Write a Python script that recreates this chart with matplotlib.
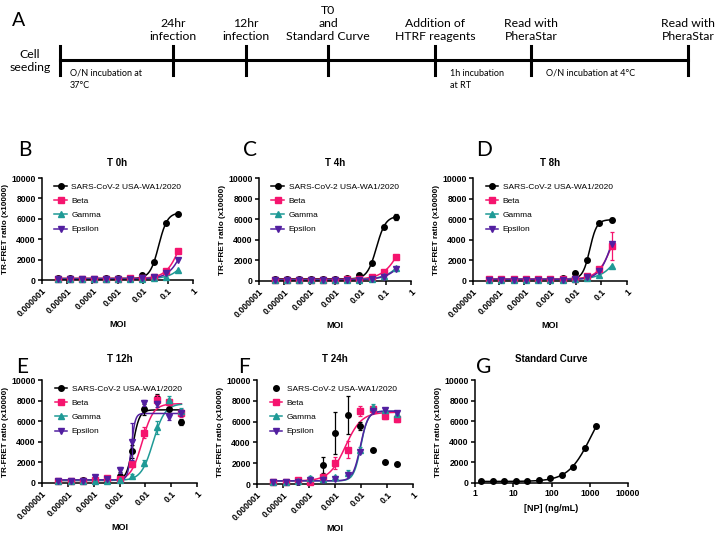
import numpy as np
import matplotlib
matplotlib.use("Agg")
import matplotlib.pyplot as plt
from matplotlib.lines import Line2D

plt.rcParams['font.family'] = ['Liberation Sans', 'DejaVu Sans']

# ---- data ----
moi = [4.2e-6, 1.27e-5, 3.81e-5, 1.14e-4, 3.43e-4, 1.03e-3,
       3.09e-3, 9.26e-3, 2.78e-2, 8.33e-2, 0.25]
moi_ticks = [1e-6, 1e-5, 1e-4, 1e-3, 1e-2, 1e-1, 1]
moi_labels = ['0.000001', '0.00001', '0.0001', '0.001', '0.01', '0.1', '1']
y_ticks = [0, 2000, 4000, 6000, 8000, 10000]

series_names = ['SARS-CoV-2 USA-WA1/2020', 'Beta', 'Gamma', 'Epsilon']

# T 0h
wa1_0h = [150, 150, 140, 140, 150, 160, 230, 500, 1750, 5580, 6440]
beta_0h = [130, 130, 130, 130, 130, 140, 150, 180, 300, 890, 2800]
gamma_0h = [110, 110, 110, 110, 110, 110, 120, 140, 200, 320, 990]
eps_0h = [100, 100, 100, 100, 100, 100, 110, 150, 250, 650, 1950]
fit_0h = [(150, 6600, 0.0434, 2.53), (150, 8000, 0.398, 1.45),
          (120, 8000, 1.26, 1.29), (100, 8000, 0.59, 1.38)]

# T 4h
wa1_4h = [180, 180, 180, 180, 180, 190, 260, 620, 1780, 5270, 6180]
wa1_4h_err = [0, 0, 0, 0, 0, 0, 0, 0, 0, 150, 300]
beta_4h = [130, 130, 130, 130, 130, 140, 160, 200, 420, 900, 2300]
gamma_4h = [100, 100, 100, 100, 100, 100, 110, 130, 200, 470, 1230]
eps_4h = [90, 90, 90, 90, 90, 90, 100, 120, 180, 400, 1150]
fit_4h = [(200, 6300, 0.0433, 2.41), (150, 8000, 0.58, 1.16),
          (120, 8000, 1.31, 1.09), (100, 8000, 1.40, 1.10)]

# T 8h
wa1_8h = [200, 200, 200, 200, 200, 200, 330, 810, 2040, 5600, 5900]
wa1_8h_err = [0, 0, 0, 0, 0, 0, 0, 0, 0, 0, 200]
beta_8h = [150, 150, 150, 150, 150, 160, 180, 200, 490, 1130, 3400]
beta_8h_err = [0, 0, 0, 0, 0, 0, 0, 0, 0, 200, 1400]
gamma_8h = [110, 110, 110, 110, 110, 110, 120, 150, 280, 580, 1490]
eps_8h = [120, 120, 120, 120, 120, 120, 130, 160, 350, 1000, 3600]
fit_8h = [(200, 5950, 0.0355, 3.18), (200, 8000, 0.32, 1.49),
          (150, 8000, 0.99, 1.15), (150, 8000, 0.288, 1.7)]

# T 12h
wa1_12h = [150, 150, 260, 320, 360, 680, 3070, 7150, 8220, 7150, 5890]
wa1_12h_err = [0, 0, 50, 100, 100, 400, 600, 500, 400, 200, 300]
beta_12h = [150, 150, 200, 250, 450, 350, 1840, 4890, 8100, 7900, 6760]
beta_12h_err = [0, 0, 0, 0, 100, 0, 300, 500, 400, 300, 400]
gamma_12h = [150, 150, 200, 200, 200, 300, 680, 1970, 5400, 8100, 7000]
gamma_12h_err = [0, 0, 0, 0, 0, 0, 200, 300, 600, 300, 300]
eps_12h = [150, 150, 200, 550, 400, 1260, 4000, 7740, 7700, 6450, 6800]
eps_12h_err = [0, 0, 0, 200, 0, 300, 1800, 300, 300, 300, 300]
fit_12h = [(250, 7100, 0.0033, 3.5), (250, 7700, 0.0075, 2.0),
           (250, 7700, 0.020, 1.9), (300, 6750, 0.0029, 6.0)]

# T 24h (no fit for WA1)
wa1_24h = [190, 190, 190, 350, 1830, 4930, 6630, 5580, 3270, 2090, 1900]
wa1_24h_err = [0, 0, 0, 100, 800, 2000, 1800, 400, 0, 0, 0]
beta_24h = [150, 150, 420, 200, 700, 2030, 3310, 7040, 7170, 6530, 6240]
beta_24h_err = [0, 0, 150, 200, 300, 600, 800, 500, 300, 300, 300]
gamma_24h = [150, 150, 250, 600, 450, 680, 1060, 3250, 7430, 7100, 6700]
gamma_24h_err = [0, 0, 0, 200, 200, 100, 300, 300, 300, 200, 200]
eps_24h = [150, 150, 200, 400, 350, 500, 900, 3100, 7000, 7100, 6800]
fit_24h = [None, (300, 6900, 0.0025, 1.4),
           (300, 7000, 0.0098, 3.2), (300, 7000, 0.0095, 3.0)]

# Standard curve
np_conc = [1.46, 2.93, 5.86, 11.7, 23.4, 46.9, 93.75, 187.5, 375, 750, 1500]
np_signal = [150, 160, 170, 180, 220, 330, 520, 800, 1550, 3390, 5580]
fit_std = (150, 9000, 1100, 1.45)

# timeline
tl_x = [60, 173, 246, 328, 435, 531, 688]
tl_labels = ['24hr\ninfection', '12hr\ninfection', 'T0\nand\nStandard Curve',
             'Addition of\nHTRF reagents', 'Read with\nPheraStar']

colors = ['#000000', '#f5146e', '#1f9a96', '#521fa0']
markers = ['o', 's', '^', 'v']


def four_pl(x, p):
    b, t, ec, h = p
    return b + (t - b) / (1 + (ec / x) ** h)


def px_axes(x0, x1, ytop, ybot):
    W, H = 720, 533
    return fig.add_axes([x0 / W, 1 - ybot / H, (x1 - x0) / W, (ybot - ytop) / H])


def style_axes(ax):
    for s in ['top', 'right']:
        ax.spines[s].set_visible(False)
    for s in ['left', 'bottom']:
        ax.spines[s].set_linewidth(1.1)
    ax.tick_params(direction='out', length=3, width=1.1, labelsize=6.2, pad=1.5)
    ax.set_ylim(0, 10000)
    ax.set_yticks(y_ticks)
    ax.set_yticklabels([str(v) for v in y_ticks], fontweight='bold')
    ax.set_ylabel('TR-FRET ratio (x10000)', fontsize=5.9, fontweight='bold', labelpad=2)


def moi_panel(ax, title, ys, errs, fits, tpad=9, legend_line=(True, True, True, True)):
    style_axes(ax)
    ax.set_xscale('log')
    ax.set_xlim(1e-6, 1)
    ax.minorticks_off()
    ax.set_xticks(moi_ticks)
    ax.set_xticklabels(moi_labels, rotation=45, ha='right', rotation_mode='anchor',
                       fontweight='bold')
    ax.set_xlabel('MOI', fontsize=6.5, fontweight='bold', labelpad=1)
    ax.set_title(title, fontsize=7, fontweight='bold', pad=tpad)
    xs = np.logspace(np.log10(moi[0]), np.log10(moi[-1]), 300)
    for i in range(4):
        if fits[i] is not None:
            ax.plot(xs, four_pl(xs, fits[i]), color=colors[i], lw=1.1, zorder=2 + i * 0.1,
                    clip_on=False)
        ax.errorbar(moi, ys[i], yerr=errs[i], fmt=markers[i], color=colors[i], ms=4,
                    capsize=1.6, elinewidth=0.9, capthick=0.9, zorder=3 + i * 0.1,
                    clip_on=False)
    handles = [Line2D([], [], color=colors[i], marker=markers[i], ms=4,
                      lw=1.1 if legend_line[i] else 0) for i in range(4)]
    ax.legend(handles, series_names, loc='upper left', bbox_to_anchor=(0.06, 0.98),
              frameon=False, fontsize=6, handlelength=1.5, handletextpad=0.55,
              labelspacing=0.75, borderaxespad=0)


fig = plt.figure(figsize=(7.2, 5.33), dpi=100)

# ---- panel A: timeline ----
ax0 = fig.add_axes([0, 0, 1, 1])
ax0.set_xlim(0, 720)
ax0.set_ylim(533, 0)
ax0.axis('off')
ax0.plot([tl_x[0], tl_x[-1]], [60, 60], color='black', lw=2.2)
for x in tl_x:
    ax0.plot([x, x], [46, 75], color='black', lw=2.2)
tfont = dict(family=['Lato', 'DejaVu Sans'], fontsize=8.8, ha='center', va='bottom',
             linespacing=1.2)
for x, lab in zip(tl_x[1:-1], tl_labels):
    ax0.text(x, 42, lab, **tfont)
ax0.text(tl_x[-1], 42, 'Read with\nPheraStar', **tfont)
ax0.text(30, 61, 'Cell\nseeding', family=['Lato', 'DejaVu Sans'], fontsize=8.8,
         ha='center', va='center', linespacing=1.2)
sfont = dict(family=['Lato', 'DejaVu Sans'], fontsize=6.5, ha='left', va='top',
             linespacing=1.5)
ax0.text(70, 69, 'O/N incubation at\n37°C', **sfont)
ax0.text(450, 69, '1h incubation\nat RT', **sfont)
ax0.text(546, 69, 'O/N incubation at 4°C', **sfont)
ax0.text(12, 20, 'A', family=['Lato', 'DejaVu Sans'], fontsize=14, va='center')

# ---- top row ----
axB = px_axes(42, 193, 178, 280)
moi_panel(axB, 'T 0h', [wa1_0h, beta_0h, gamma_0h, eps_0h],
          [None, None, None, None], fit_0h)
axC = px_axes(259, 411, 178, 281)
moi_panel(axC, 'T 4h', [wa1_4h, beta_4h, gamma_4h, eps_4h],
          [wa1_4h_err, None, None, None], fit_4h)
axD = px_axes(473, 627, 178, 281)
moi_panel(axD, 'T 8h', [wa1_8h, beta_8h, gamma_8h, eps_8h],
          [wa1_8h_err, beta_8h_err, None, None], fit_8h)

# ---- bottom row ----
axE = px_axes(42, 197, 380, 483)
moi_panel(axE, 'T 12h', [wa1_12h, beta_12h, gamma_12h, eps_12h],
          [wa1_12h_err, beta_12h_err, gamma_12h_err, eps_12h_err], fit_12h, tpad=13)
axF = px_axes(257, 413, 380, 484)
moi_panel(axF, 'T 24h', [wa1_24h, beta_24h, gamma_24h, eps_24h],
          [wa1_24h_err, beta_24h_err, gamma_24h_err, None], fit_24h, tpad=13,
          legend_line=(False, True, True, True))

axG = px_axes(475, 628, 380, 483)
style_axes(axG)
axG.set_xscale('log')
axG.set_xlim(1, 10000)
axG.minorticks_off()
axG.set_xticks([1, 10, 100, 1000, 10000])
axG.set_xticklabels(['1', '10', '100', '1000', '10000'], fontweight='bold')
axG.set_xlabel('[NP] (ng/mL)', fontsize=6.5, fontweight='bold', labelpad=4)
axG.set_title('Standard Curve', fontsize=7, fontweight='bold', pad=13)
xs = np.logspace(np.log10(np_conc[0]), np.log10(np_conc[-1]), 300)
axG.plot(xs, four_pl(xs, fit_std), color='black', lw=1.1)
axG.plot(np_conc, np_signal, 'o', color='black', ms=4, clip_on=False)

# panel letters
for lab, x, y in [('B', 18, 150), ('C', 243, 150), ('D', 476, 150),
                  ('E', 16, 367), ('F', 238, 367), ('G', 476, 367)]:
    ax0.text(x, y, lab, family=['Lato', 'DejaVu Sans'], fontsize=15, va='center')

fig.savefig('out.png', dpi=100)
